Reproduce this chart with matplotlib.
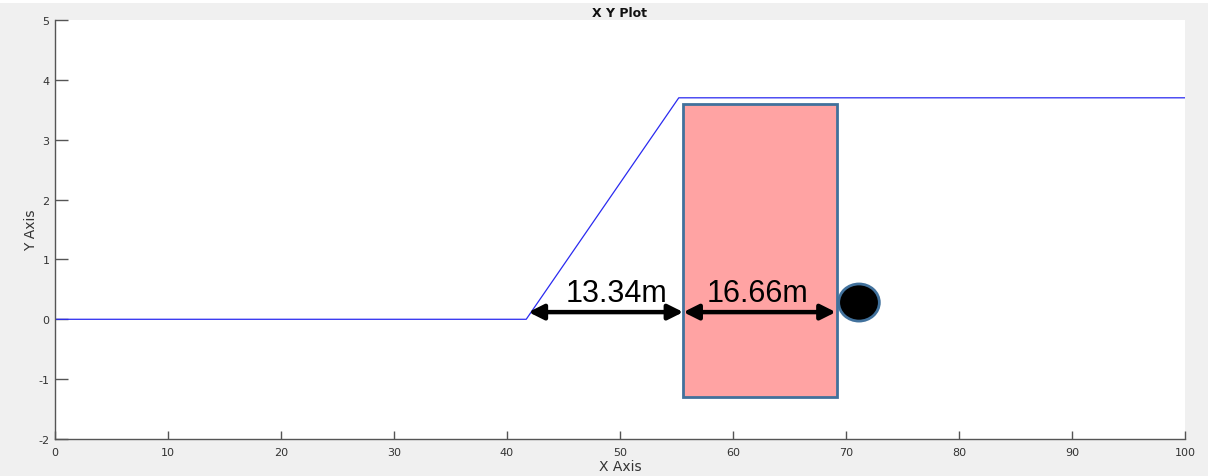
import matplotlib
matplotlib.use("Agg")
import matplotlib.pyplot as plt
from matplotlib.patches import Rectangle, Ellipse

plt.rcParams['font.family'] = ['DejaVu Sans']
plt.rcParams['axes.unicode_minus'] = False

# Ground profile: flat toe, slope, flat crest
profile_x = [0, 41.7, 55.2, 100]
profile_y = [0, 0, 3.7, 3.7]

# Structure block (x0, x1, y0, y1)
block_x = [55.6, 69.2]
block_y = [-1.30, 3.59]

# Dimension arrows and their labels
dim_starts = [41.9, 55.6]
dim_ends = [55.6, 69.1]
dim_y = 0.12
dim_labels = ["13.34m", "16.66m"]
label_x = [49.7, 62.2]
label_y = 0.44

# Point marker
point_x = 71.15
point_y = 0.28

x_ticks = [0, 10, 20, 30, 40, 50, 60, 70, 80, 90, 100]
y_ticks = [-2, -1, 0, 1, 2, 3, 4, 5]

fig = plt.figure(figsize=(12.08, 4.77), dpi=100, facecolor='#f0f0f0')
fig.patches.append(Rectangle((0, 1 - 4 / 477), 1, 4 / 477, transform=fig.transFigure,
                             facecolor='white', edgecolor='none', zorder=0))
ax = fig.add_axes([55 / 1208, 1 - 440 / 477, 1130 / 1208, 419 / 477])
ax.set_xlim(0, 100)
ax.set_ylim(-2, 5)

ax.plot(profile_x, profile_y, color='#2a2af0', lw=0.9, zorder=2)

ax.add_patch(Rectangle((block_x[0], block_y[0]), block_x[1] - block_x[0], block_y[1] - block_y[0],
                       facecolor='#ffa3a3', edgecolor='#41719c', lw=2.0, zorder=3))

for x0, x1 in zip(dim_starts, dim_ends):
    ax.annotate('', xy=(x1, dim_y), xytext=(x0, dim_y),
                arrowprops=dict(arrowstyle='<|-|>,head_length=0.9,head_width=0.45',
                                color='black', lw=3.2, shrinkA=0, shrinkB=0),
                zorder=5)
for lx, lab in zip(label_x, dim_labels):
    ax.text(lx, label_y, lab, ha='center', va='center', fontsize=22,
            family=['Liberation Sans', 'DejaVu Sans'], color='black', zorder=6)

ax.add_patch(Ellipse((point_x, point_y), 3.6, 0.62, facecolor='black',
                     edgecolor='#41719c', lw=2.0, zorder=4))

ax.set_xticks(x_ticks)
ax.set_yticks(y_ticks)
ax.tick_params(axis='both', direction='in', colors='#555555', labelcolor='#333333',
               labelsize=8, width=1)
ax.tick_params(axis='x', length=6, pad=6)
ax.tick_params(axis='y', length=9, pad=4)
for s in ['top', 'right']:
    ax.spines[s].set_visible(False)
for s in ['left', 'bottom']:
    ax.spines[s].set_color('#555555')
    ax.spines[s].set_linewidth(1)

ax.set_title('X Y Plot', fontsize=9, fontweight='bold', color='#111111', pad=3)
ax.set_xlabel('X Axis', fontsize=10, color='#333333', labelpad=1)
ax.set_ylabel('Y Axis', fontsize=10, color='#333333', labelpad=0)

fig.savefig('out.png', dpi=100, facecolor=fig.get_facecolor())
